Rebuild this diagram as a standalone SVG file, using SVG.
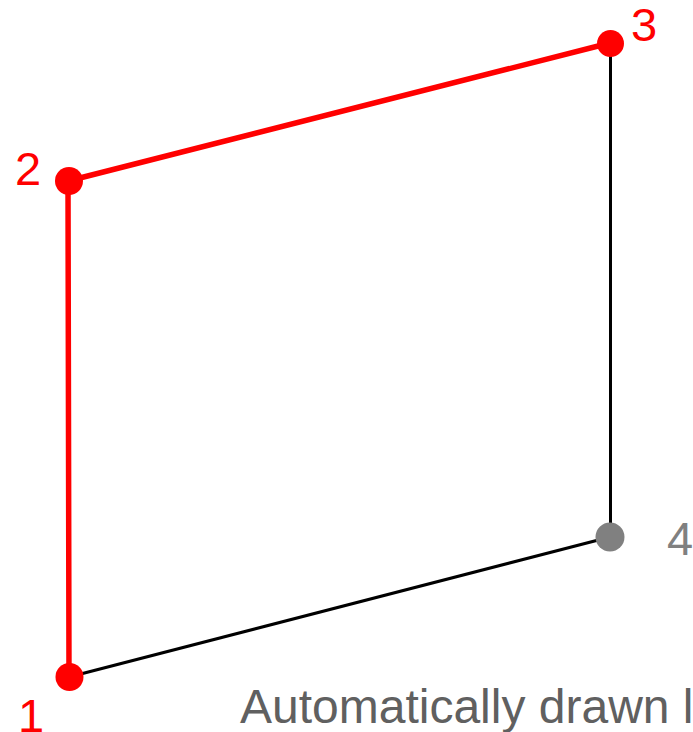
<svg xmlns="http://www.w3.org/2000/svg" width="693" height="732" viewBox="0 0 693 732">
<style>
.red{stroke:#ff0000;stroke-width:5.5;fill:none;stroke-linecap:round}
.blk{stroke:#000;stroke-width:3;fill:none}
.lbl{font-family:"Liberation Sans",Arial,sans-serif;font-size:47px}
.rt{fill:#ff0000}
.gt{fill:#808080}
</style>
<rect width="693" height="732" fill="#fff"/>
<g id="connectors">
<line class="blk" x1="610.5" y1="43" x2="610.5" y2="537"/>
<line class="blk" x1="610" y1="537" x2="69" y2="677"/>
<line class="red" x1="69" y1="677" x2="68" y2="181"/>
<line class="red" x1="68" y1="181" x2="610" y2="43"/>
</g>
<g id="node1"><circle cx="69.5" cy="677" r="14" class="rt"/><text class="lbl rt" x="18" y="732">1</text></g>
<g id="node2"><circle cx="69" cy="181" r="14" class="rt"/><text class="lbl rt" x="15" y="185">2</text></g>
<g id="node3"><circle cx="610.5" cy="43.5" r="13.5" class="rt"/><text class="lbl rt" x="631" y="41">3</text></g>
<g id="node4"><circle cx="610" cy="537" r="14.5" class="gt"/><text class="lbl gt" x="667" y="555">4</text></g>
<text x="240" y="723" font-family="Liberation Sans, Arial, sans-serif" font-size="48" fill="#606060">Automatically drawn l</text>
</svg>
